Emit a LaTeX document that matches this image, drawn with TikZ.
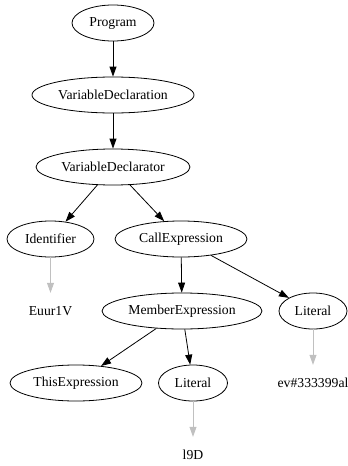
\documentclass[tikz,border=0pt]{standalone}
\usepackage{fontspec}
\setmainfont{Liberation Serif}
\usetikzlibrary{shapes.geometric,arrows.meta}
\definecolor{leafgray}{RGB}{192,192,192}
\tikzset{
  astnode/.style={ellipse,draw,line width=0.8pt,inner sep=0pt,minimum height=36pt,
                  font=\fontsize{13.7}{16}\selectfont},
  leaftext/.style={rectangle,inner sep=0pt,minimum height=36pt,minimum width=20pt,
                  font=\fontsize{13.7}{16}\selectfont},
  edge/.style={draw,line width=0.8pt,-{Triangle[length=10pt,width=7pt]}},
  leafedge/.style={draw=leafgray,line width=0.8pt,-{Triangle[length=10pt,width=7pt,fill=leafgray]}}
}
\begin{document}
\begin{tikzpicture}[x=1pt,y=-1pt]
\useasboundingbox (0,0) rectangle (348,466);
% tree nodes
\node[astnode,minimum width=82pt]  (prog)  at (113,23)  {Program};
\node[astnode,minimum width=162pt] (vdecl) at (113,95)  {VariableDeclaration};
\node[astnode,minimum width=154pt] (vdtor) at (113,167) {VariableDeclarator};
\node[astnode,minimum width=87pt]  (ident) at (50.5,239) {Identifier};
\node[astnode,minimum width=132pt] (call)  at (181,239) {CallExpression};
\node[astnode,minimum width=160pt] (member) at (182,311) {MemberExpression};
\node[astnode,minimum width=68pt]  (litA)  at (313,311) {Literal};
\node[astnode,minimum width=132pt] (this)  at (76,383)  {ThisExpression};
\node[astnode,minimum width=69pt]  (litB)  at (193,383) {Literal};
% leaf values
\node[leaftext] (valA) at (50.5,311) {Euur1V};
\node[leaftext] (valB) at (313,383) {ev\#333399al};
\node[leaftext] (valC) at (193,455) {l9D};
% structure edges
\path[edge] (prog) -- (vdecl);
\path[edge] (vdecl) -- (vdtor);
\path[edge] (vdtor) -- (ident);
\path[edge] (vdtor) -- (call);
\path[edge] (call) -- (member);
\path[edge] (call) -- (litA);
\path[edge] (member) -- (this);
\path[edge] (member) -- (litB);
% value edges
\path[leafedge] (ident) -- (valA);
\path[leafedge] (litA) -- (valB);
\path[leafedge] (litB) -- (valC);
\end{tikzpicture}
\end{document}
